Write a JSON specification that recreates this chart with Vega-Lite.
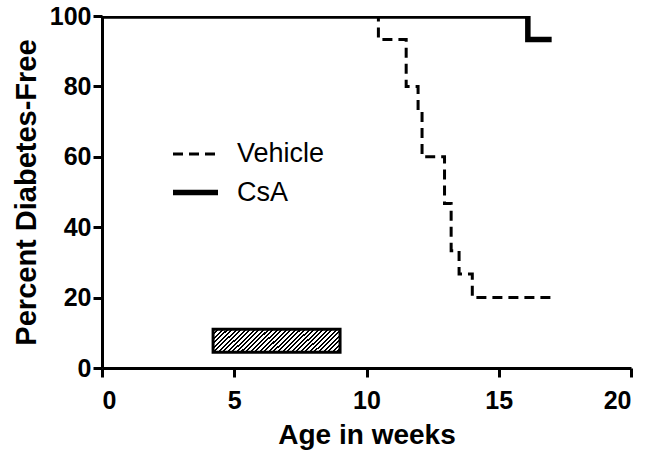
{
  "$schema": "https://vega.github.io/schema/vega-lite/v6.json",
  "width": 529,
  "height": 352,
  "autosize": {"type": "none"},
  "padding": {"left": 102, "top": 16, "right": 22, "bottom": 92},
  "background": "white",
  "datasets": {
    "surv": [
      {"series": "Vehicle", "week": 0, "pct": 100},
      {"series": "Vehicle", "week": 10.45, "pct": 93.3},
      {"series": "Vehicle", "week": 11.5, "pct": 80},
      {"series": "Vehicle", "week": 11.95, "pct": 73.3},
      {"series": "Vehicle", "week": 12.1, "pct": 60},
      {"series": "Vehicle", "week": 12.95, "pct": 46.7},
      {"series": "Vehicle", "week": 13.2, "pct": 33.3},
      {"series": "Vehicle", "week": 13.5, "pct": 26.7},
      {"series": "Vehicle", "week": 14, "pct": 20},
      {"series": "Vehicle", "week": 17, "pct": 20},
      {"series": "CsA", "week": 0, "pct": 100},
      {"series": "CsA", "week": 16.1, "pct": 93.3},
      {"series": "CsA", "week": 17, "pct": 93.3}
    ],
    "bar": [
      {"start": 4.2, "end": 9, "low": 4.5, "high": 11}
    ]
  },
  "layer": [
    {
      "data": {"name": "bar"},
      "mark": {
        "type": "rect",
        "stroke": "black",
        "strokeWidth": 3,
        "fill": {
          "gradient": "linear",
          "x1": 0, "y1": 0, "x2": 1.146, "y2": 0.212,
          "stops": [
            {"offset": 0.0, "color": "black"}, {"offset": 0.0136, "color": "black"}, {"offset": 0.0136, "color": "white"}, {"offset": 0.0303, "color": "white"},
            {"offset": 0.0303, "color": "black"}, {"offset": 0.0439, "color": "black"}, {"offset": 0.0439, "color": "white"}, {"offset": 0.0606, "color": "white"},
            {"offset": 0.0606, "color": "black"}, {"offset": 0.0742, "color": "black"}, {"offset": 0.0742, "color": "white"}, {"offset": 0.0909, "color": "white"},
            {"offset": 0.0909, "color": "black"}, {"offset": 0.1045, "color": "black"}, {"offset": 0.1045, "color": "white"}, {"offset": 0.1212, "color": "white"},
            {"offset": 0.1212, "color": "black"}, {"offset": 0.1348, "color": "black"}, {"offset": 0.1348, "color": "white"}, {"offset": 0.1515, "color": "white"},
            {"offset": 0.1515, "color": "black"}, {"offset": 0.1652, "color": "black"}, {"offset": 0.1652, "color": "white"}, {"offset": 0.1818, "color": "white"},
            {"offset": 0.1818, "color": "black"}, {"offset": 0.1955, "color": "black"}, {"offset": 0.1955, "color": "white"}, {"offset": 0.2121, "color": "white"},
            {"offset": 0.2121, "color": "black"}, {"offset": 0.2258, "color": "black"}, {"offset": 0.2258, "color": "white"}, {"offset": 0.2424, "color": "white"},
            {"offset": 0.2424, "color": "black"}, {"offset": 0.2561, "color": "black"}, {"offset": 0.2561, "color": "white"}, {"offset": 0.2727, "color": "white"},
            {"offset": 0.2727, "color": "black"}, {"offset": 0.2864, "color": "black"}, {"offset": 0.2864, "color": "white"}, {"offset": 0.3030, "color": "white"},
            {"offset": 0.3030, "color": "black"}, {"offset": 0.3167, "color": "black"}, {"offset": 0.3167, "color": "white"}, {"offset": 0.3333, "color": "white"},
            {"offset": 0.3333, "color": "black"}, {"offset": 0.3470, "color": "black"}, {"offset": 0.3470, "color": "white"}, {"offset": 0.3636, "color": "white"},
            {"offset": 0.3636, "color": "black"}, {"offset": 0.3773, "color": "black"}, {"offset": 0.3773, "color": "white"}, {"offset": 0.3939, "color": "white"},
            {"offset": 0.3939, "color": "black"}, {"offset": 0.4076, "color": "black"}, {"offset": 0.4076, "color": "white"}, {"offset": 0.4242, "color": "white"},
            {"offset": 0.4242, "color": "black"}, {"offset": 0.4379, "color": "black"}, {"offset": 0.4379, "color": "white"}, {"offset": 0.4545, "color": "white"},
            {"offset": 0.4545, "color": "black"}, {"offset": 0.4682, "color": "black"}, {"offset": 0.4682, "color": "white"}, {"offset": 0.4848, "color": "white"},
            {"offset": 0.4848, "color": "black"}, {"offset": 0.4985, "color": "black"}, {"offset": 0.4985, "color": "white"}, {"offset": 0.5152, "color": "white"},
            {"offset": 0.5152, "color": "black"}, {"offset": 0.5288, "color": "black"}, {"offset": 0.5288, "color": "white"}, {"offset": 0.5455, "color": "white"},
            {"offset": 0.5455, "color": "black"}, {"offset": 0.5591, "color": "black"}, {"offset": 0.5591, "color": "white"}, {"offset": 0.5758, "color": "white"},
            {"offset": 0.5758, "color": "black"}, {"offset": 0.5894, "color": "black"}, {"offset": 0.5894, "color": "white"}, {"offset": 0.6061, "color": "white"},
            {"offset": 0.6061, "color": "black"}, {"offset": 0.6197, "color": "black"}, {"offset": 0.6197, "color": "white"}, {"offset": 0.6364, "color": "white"},
            {"offset": 0.6364, "color": "black"}, {"offset": 0.6500, "color": "black"}, {"offset": 0.6500, "color": "white"}, {"offset": 0.6667, "color": "white"},
            {"offset": 0.6667, "color": "black"}, {"offset": 0.6803, "color": "black"}, {"offset": 0.6803, "color": "white"}, {"offset": 0.6970, "color": "white"},
            {"offset": 0.6970, "color": "black"}, {"offset": 0.7106, "color": "black"}, {"offset": 0.7106, "color": "white"}, {"offset": 0.7273, "color": "white"},
            {"offset": 0.7273, "color": "black"}, {"offset": 0.7409, "color": "black"}, {"offset": 0.7409, "color": "white"}, {"offset": 0.7576, "color": "white"},
            {"offset": 0.7576, "color": "black"}, {"offset": 0.7712, "color": "black"}, {"offset": 0.7712, "color": "white"}, {"offset": 0.7879, "color": "white"},
            {"offset": 0.7879, "color": "black"}, {"offset": 0.8015, "color": "black"}, {"offset": 0.8015, "color": "white"}, {"offset": 0.8182, "color": "white"},
            {"offset": 0.8182, "color": "black"}, {"offset": 0.8318, "color": "black"}, {"offset": 0.8318, "color": "white"}, {"offset": 0.8485, "color": "white"},
            {"offset": 0.8485, "color": "black"}, {"offset": 0.8621, "color": "black"}, {"offset": 0.8621, "color": "white"}, {"offset": 0.8788, "color": "white"},
            {"offset": 0.8788, "color": "black"}, {"offset": 0.8924, "color": "black"}, {"offset": 0.8924, "color": "white"}, {"offset": 0.9091, "color": "white"},
            {"offset": 0.9091, "color": "black"}, {"offset": 0.9227, "color": "black"}, {"offset": 0.9227, "color": "white"}, {"offset": 0.9394, "color": "white"},
            {"offset": 0.9394, "color": "black"}, {"offset": 0.9530, "color": "black"}, {"offset": 0.9530, "color": "white"}, {"offset": 0.9697, "color": "white"},
            {"offset": 0.9697, "color": "black"}, {"offset": 0.9833, "color": "black"}, {"offset": 0.9833, "color": "white"}, {"offset": 1.0, "color": "white"}
          ]
        }
      },
      "encoding": {
        "x": {
          "field": "start", "type": "quantitative",
          "scale": {"domain": [0, 20], "nice": false},
          "axis": {"title": "Age in weeks", "values": [0, 5, 10, 15, 20], "labelPadding": 11, "titlePadding": 8}
        },
        "x2": {"field": "end"},
        "y": {
          "field": "low", "type": "quantitative",
          "scale": {"domain": [0, 100], "nice": false},
          "axis": {"title": "Percent Diabetes-Free", "values": [0, 20, 40, 60, 80, 100], "labelPadding": 2, "titlePadding": 8, "titleFontSize": 29}
        },
        "y2": {"field": "high"}
      }
    },
    {
      "data": {"name": "surv"},
      "transform": [{"filter": "datum.series === 'Vehicle'"}],
      "mark": {"type": "line", "interpolate": "step-after", "clip": true, "color": "black", "strokeCap": "butt"},
      "encoding": {
        "x": {"field": "week", "type": "quantitative"},
        "y": {"field": "pct", "type": "quantitative"},
        "strokeDash": {"field": "series", "type": "nominal", "scale": {"domain": ["Vehicle", "CsA"], "range": [[10, 6], [1, 0]]}, "legend": {"title": null}},
        "strokeWidth": {"field": "series", "type": "nominal", "scale": {"domain": ["Vehicle", "CsA"], "range": [3, 5.5]}, "legend": {"title": null}}
      }
    },
    {
      "data": {"name": "surv"},
      "transform": [{"filter": "datum.series === 'CsA'"}],
      "mark": {"type": "line", "interpolate": "step-after", "clip": true, "color": "black", "strokeCap": "butt"},
      "encoding": {
        "x": {"field": "week", "type": "quantitative"},
        "y": {"field": "pct", "type": "quantitative"},
        "strokeDash": {"field": "series", "type": "nominal"},
        "strokeWidth": {"field": "series", "type": "nominal"}
      }
    }
  ],
  "config": {
    "view": {"stroke": null},
    "font": "Liberation Sans",
    "axis": {
      "grid": false,
      "domainColor": "black",
      "domainWidth": 3,
      "tickColor": "black",
      "tickWidth": 3,
      "tickSize": 9,
      "labelFont": "Liberation Sans",
      "labelFontSize": 25,
      "labelFontWeight": "bold",
      "labelColor": "black",
      "titleFont": "Liberation Sans",
      "titleFontSize": 28,
      "titleFontWeight": "bold",
      "titleColor": "black"
    },
    "legend": {
      "orient": "none",
      "legendX": 68,
      "legendY": 114,
      "symbolType": "stroke",
      "symbolSize": 2025,
      "symbolStrokeColor": "black",
      "labelFont": "Liberation Sans",
      "labelFontSize": 27,
      "labelColor": "black",
      "labelOffset": 16,
      "rowPadding": -6,
      "padding": 0
    }
  }
}
